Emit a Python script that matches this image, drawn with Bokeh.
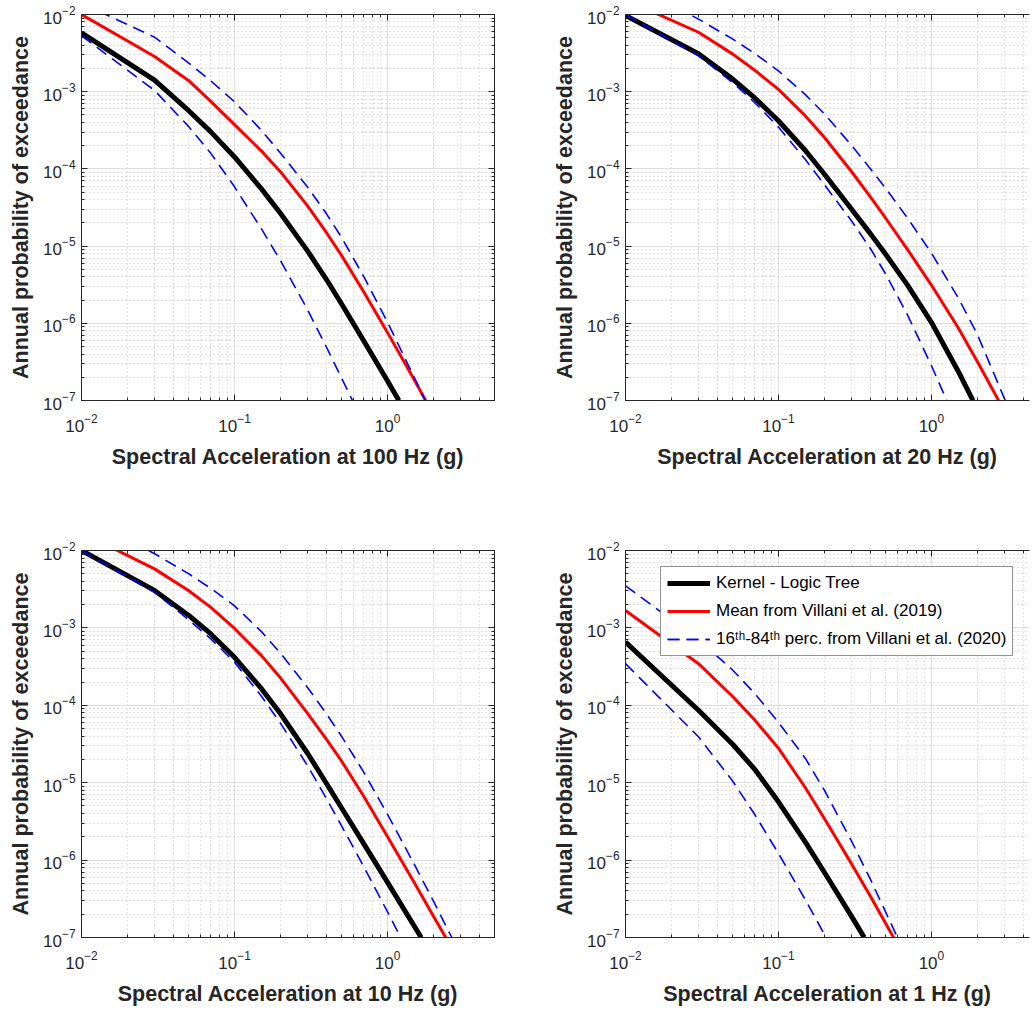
from bokeh.plotting import figure
from bokeh.models import LogAxis, Legend, LegendItem, Range1d
from bokeh.layouts import row, column
from bokeh.embed import file_html
from bokeh.resources import INLINE

# ---------------- data ----------------
x_labels = ["Spectral Acceleration at 100 Hz (g)", "Spectral Acceleration at 20 Hz (g)",
            "Spectral Acceleration at 10 Hz (g)", "Spectral Acceleration at 1 Hz (g)"]
y_label = "Annual probability of exceedance"
legend_labels = ["Kernel - Logic Tree", "Mean from Villani et al. (2019)",
                 "16\u1d57\u02b0-84\u1d57\u02b0 perc. from Villani et al. (2020)"]

# 100 Hz
x100_k = [0.01, 0.03, 0.05, 0.07, 0.1, 0.15, 0.2, 0.3, 0.4, 0.5, 0.7, 1.0, 1.186]
y100_k = [5.79e-3, 1.41e-3, 5.71e-4, 3.02e-4, 1.43e-4, 5.51e-5, 2.64e-5, 8.67e-6, 3.66e-6, 1.79e-6, 5.90e-7, 1.79e-7, 1.0e-7]
x100_m = [0.01, 0.03, 0.05, 0.07, 0.1, 0.15, 0.2, 0.3, 0.4, 0.5, 0.7, 1.0, 1.5, 1.775]
y100_m = [1.0e-2, 2.86e-3, 1.40e-3, 7.50e-4, 3.74e-4, 1.70e-4, 9.14e-5, 3.32e-5, 1.48e-5, 7.59e-6, 2.55e-6, 7.57e-7, 1.83e-7, 1.0e-7]
x100_hi = [0.01, 0.03, 0.05, 0.07, 0.1, 0.15, 0.2, 0.3, 0.4, 0.5, 0.7, 1.0, 1.5, 1.76]
y100_hi = [1.40e-2, 5.09e-3, 2.37e-3, 1.38e-3, 7.40e-4, 3.15e-4, 1.60e-4, 5.82e-5, 2.60e-5, 1.30e-5, 4.01e-6, 1.03e-6, 1.96e-7, 1.0e-7]
x100_lo = [0.01, 0.03, 0.05, 0.07, 0.1, 0.15, 0.2, 0.3, 0.4, 0.59]
y100_lo = [5.30e-3, 1.04e-3, 3.56e-4, 1.59e-4, 5.86e-5, 1.67e-5, 6.44e-6, 1.50e-6, 4.86e-7, 1.0e-7]

# 20 Hz
x20_k = [0.01, 0.03, 0.05, 0.07, 0.1, 0.15, 0.2, 0.3, 0.4, 0.5, 0.7, 1.0, 1.5, 1.87]
y20_k = [9.70e-3, 3.10e-3, 1.47e-3, 8.30e-4, 4.21e-4, 1.73e-4, 8.53e-5, 3.03e-5, 1.44e-5, 7.94e-6, 3.10e-6, 1.03e-6, 2.38e-7, 1.0e-7]
x20_m = [0.01, 0.03, 0.05, 0.07, 0.1, 0.15, 0.2, 0.3, 0.4, 0.5, 0.7, 1.0, 1.5, 2.0, 2.75]
y20_m = [1.55e-2, 5.89e-3, 3.09e-3, 1.90e-3, 1.07e-3, 4.86e-4, 2.55e-4, 9.25e-5, 4.32e-5, 2.33e-5, 8.95e-6, 3.13e-6, 8.71e-7, 3.18e-7, 1.0e-7]
x20_hi = [0.01, 0.03, 0.05, 0.07, 0.1, 0.15, 0.2, 0.3, 0.4, 0.5, 0.7, 1.0, 1.5, 2.0, 3.04]
y20_hi = [2.82e-2, 8.71e-3, 4.84e-3, 3.13e-3, 1.86e-3, 9.16e-4, 5.15e-4, 2.03e-4, 1.0e-4, 5.68e-5, 2.29e-5, 8.13e-6, 2.13e-6, 7.14e-7, 1.0e-7]
x20_lo = [0.01, 0.03, 0.05, 0.07, 0.1, 0.15, 0.2, 0.3, 0.4, 0.5, 0.7, 1.0, 1.26]
y20_lo = [1.0e-2, 2.92e-3, 1.32e-3, 7.23e-4, 3.48e-4, 1.32e-4, 6.22e-5, 2.13e-5, 9.23e-6, 4.42e-6, 1.27e-6, 2.84e-7, 1.0e-7]

# 10 Hz
x10_k = [0.01, 0.03, 0.05, 0.07, 0.1, 0.15, 0.2, 0.3, 0.4, 0.5, 0.7, 1.0, 1.66]
y10_k = [1.0e-2, 3.05e-3, 1.46e-3, 8.36e-4, 4.17e-4, 1.64e-4, 7.76e-5, 2.40e-5, 9.68e-6, 4.74e-6, 1.62e-6, 5.16e-7, 1.0e-7]
x10_m = [0.01, 0.03, 0.05, 0.07, 0.1, 0.15, 0.2, 0.3, 0.4, 0.5, 0.7, 1.0, 1.5, 2.0, 2.4]
y10_m = [1.70e-2, 5.79e-3, 3.04e-3, 1.84e-3, 9.84e-4, 4.38e-4, 2.25e-4, 7.85e-5, 3.61e-5, 1.91e-5, 6.62e-6, 2.00e-6, 5.06e-7, 1.87e-7, 1.0e-7]
x10_hi = [0.01, 0.03, 0.05, 0.07, 0.1, 0.15, 0.2, 0.3, 0.4, 0.5, 0.7, 1.0, 1.5, 2.0, 2.63]
y10_hi = [2.82e-2, 9.10e-3, 5.02e-3, 3.24e-3, 1.93e-3, 8.95e-4, 4.69e-4, 1.70e-4, 7.71e-5, 3.99e-5, 1.36e-5, 3.90e-6, 8.71e-7, 2.92e-7, 1.0e-7]
x10_lo = [0.01, 0.03, 0.05, 0.07, 0.1, 0.15, 0.2, 0.3, 0.4, 0.5, 0.7, 1.0, 1.22]
y10_lo = [1.0e-2, 2.89e-3, 1.28e-3, 7.21e-4, 3.60e-4, 1.31e-4, 5.83e-5, 1.66e-5, 6.15e-6, 2.79e-6, 8.17e-7, 2.14e-7, 1.0e-7]

# 1 Hz
x1_k = [0.01, 0.03, 0.05, 0.07, 0.1, 0.15, 0.2, 0.3, 0.364]
y1_k = [6.58e-4, 8.63e-5, 3.16e-5, 1.49e-5, 5.66e-6, 1.71e-6, 6.92e-7, 1.89e-7, 1.0e-7]
x1_m = [0.01, 0.03, 0.05, 0.07, 0.1, 0.15, 0.2, 0.3, 0.4, 0.566]
y1_m = [1.68e-3, 3.45e-4, 1.31e-4, 6.44e-5, 2.79e-5, 8.61e-6, 3.43e-6, 9.0e-7, 3.38e-7, 1.0e-7]
x1_hi = [0.01, 0.03, 0.05, 0.07, 0.1, 0.15, 0.2, 0.3, 0.4, 0.6]
y1_hi = [3.50e-3, 7.05e-4, 2.88e-4, 1.42e-4, 6.03e-5, 2.06e-5, 7.94e-6, 1.77e-6, 5.61e-7, 1.0e-7]
x1_lo = [0.01, 0.03, 0.05, 0.07, 0.1, 0.15, 0.205]
y1_lo = [3.45e-4, 3.92e-5, 1.06e-5, 3.88e-6, 1.22e-6, 3.07e-7, 1.0e-7]

panels = [
    (x100_k, y100_k, x100_m, y100_m, x100_hi, y100_hi, x100_lo, y100_lo),
    (x20_k, y20_k, x20_m, y20_m, x20_hi, y20_hi, x20_lo, y20_lo),
    (x10_k, y10_k, x10_m, y10_m, x10_hi, y10_hi, x10_lo, y10_lo),
    (x1_k, y1_k, x1_m, y1_m, x1_hi, y1_hi, x1_lo, y1_lo),
]

# ---------------- styling ----------------
TXT = "#262626"
FONT = "Liberation Sans"


def style_axis(ax, label_size="17px"):
    ax.axis_line_color = TXT
    ax.major_tick_line_color = TXT
    ax.minor_tick_line_color = TXT
    ax.major_tick_in = 6
    ax.major_tick_out = 0
    ax.minor_tick_in = 3
    ax.minor_tick_out = 0
    ax.major_label_text_font = FONT
    ax.major_label_text_font_size = label_size
    ax.major_label_text_color = TXT
    ax.axis_label_text_font = FONT
    ax.axis_label_text_font_size = "21.5px"
    ax.axis_label_text_font_style = "bold"
    ax.axis_label_text_color = TXT


def make_panel(i):
    right_col = i % 2 == 1
    bottom_row = i >= 2
    xk, yk, xm, ym, xh, yh, xl, yl = panels[i]
    if right_col:
        width, mbl, mbr, x_end = 511, 105, 2, 4.38
    else:
        width, mbl, mbr, x_end = 520, 81, 26, 5.0
    if bottom_row:
        height, mbt, mbb = 503, 45, 70
    else:
        height, mbt, mbb = 505, 14, 105
    p = figure(width=width, height=height, x_axis_type="log", y_axis_type="log",
               x_range=Range1d(0.01, x_end), y_range=Range1d(1e-7, 1e-2),
               output_backend="svg", toolbar_location=None,
               min_border_left=mbl, min_border_right=mbr,
               min_border_top=mbt, min_border_bottom=mbb)
    p.background_fill_color = "white"
    p.border_fill_color = "white"
    p.outline_line_color = None if right_col else TXT

    p.xaxis.axis_label = x_labels[i]
    p.yaxis.axis_label = y_label
    for ax in p.xaxis + p.yaxis:
        style_axis(ax)
    p.xaxis.major_label_standoff = 13
    p.xaxis.axis_label_standoff = 10
    p.yaxis.major_label_standoff = 6
    p.yaxis.axis_label_standoff = 7

    top = LogAxis(ticker=p.xaxis[0].ticker)
    style_axis(top, "1px")
    top.major_label_text_color = None
    top.major_label_standoff = 0
    p.add_layout(top, "above")
    if not right_col:
        rgt = LogAxis(ticker=p.yaxis[0].ticker)
        style_axis(rgt, "1px")
        rgt.major_label_text_color = None
        rgt.major_label_standoff = 0
        p.add_layout(rgt, "right")

    p.grid.grid_line_color = "#DEDEDE"
    p.grid.grid_line_width = 1
    p.grid.minor_grid_line_color = "#C4C4C4"
    p.grid.minor_grid_line_dash = "1 3"
    p.grid.minor_grid_line_width = 1

    rk = p.line(xk, yk, line_color="black", line_width=5)
    rm = p.line(xm, ym, line_color="#FF0000", line_width=3)
    rh = p.line(xh, yh, line_color="#0000FF", line_width=1.6, line_dash="12 7")
    rl = p.line(xl, yl, line_color="#0000FF", line_width=1.6, line_dash="12 7")

    if i == 3:
        leg = Legend(items=[LegendItem(label=legend_labels[0], renderers=[rk]),
                            LegendItem(label=legend_labels[1], renderers=[rm]),
                            LegendItem(label=legend_labels[2], renderers=[rh, rl])],
                     location=(35, 281))
        leg.label_text_font = FONT
        leg.label_text_font_size = "17px"
        leg.label_text_color = "black"
        leg.glyph_width = 43
        leg.glyph_height = 20
        leg.label_height = 20
        leg.label_standoff = 6
        leg.spacing = 8
        leg.padding = 6
        leg.margin = 0
        leg.border_line_color = TXT
        leg.border_line_width = 1
        leg.background_fill_color = "white"
        leg.background_fill_alpha = 1.0
        p.add_layout(leg)
    return p


figs = [make_panel(i) for i in range(4)]
layout = column(row(figs[0], figs[1]), row(figs[2], figs[3]))

open("out.html", "w").write(file_html(layout, INLINE, title="Hazard curves"))
